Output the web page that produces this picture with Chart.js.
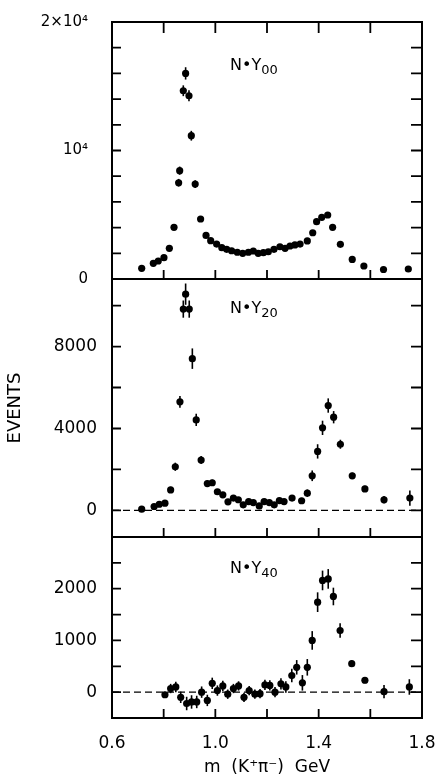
<!DOCTYPE html>
<html>
<head>
<meta charset="utf-8">
<script src="https://cdn.jsdelivr.net/npm/chart.js@4.4.1/dist/chart.umd.min.js"></script>
<style>
body { margin: 0; background: #ffffff; }
#wrap { position: relative; width: 441px; height: 780px; }
canvas { position: absolute; left: 0; }
</style>
</head>
<body>
<div id="wrap">
  <canvas id="graph1" width="441" height="284" style="top:0px"></canvas>
  <canvas id="graph2" width="441" height="275" style="top:270px"></canvas>
  <canvas id="graph3" width="441" height="252" style="top:528px"></canvas>
</div>
<script>
// x axis: m(K+ pi-) in GeV
var xTicks = [0.6, 0.8, 1.0, 1.2, 1.4, 1.6, 1.8];
var xTickLabels = ['0.6', '', '1.0', '', '1.4', '', '1.8'];

// N*Y00 panel
var m00 = [0.715, 0.760, 0.779, 0.801, 0.822, 0.840, 0.858, 0.862, 0.876, 0.885, 0.898, 0.907, 0.922, 0.943, 0.964,
  0.982, 1.005, 1.025, 1.044, 1.063, 1.085, 1.106, 1.128, 1.147, 1.166, 1.186, 1.205, 1.227, 1.250, 1.270,
  1.289, 1.308, 1.328, 1.356, 1.377, 1.392, 1.412, 1.435, 1.454, 1.484, 1.530, 1.575, 1.651, 1.747];
var y00 = [830, 1220, 1400, 1660, 2390, 4020, 7490, 8430, 14650, 16000, 14260, 11150, 7390, 4670, 3390,
  2980, 2720, 2440, 2310, 2200, 2080, 2000, 2080, 2180, 2000, 2050, 2120, 2310, 2510, 2390,
  2570, 2650, 2720, 2960, 3600, 4460, 4800, 4980, 4020, 2700, 1520, 1010, 740, 780];
var e00 = [100, 120, 120, 130, 150, 200, 300, 320, 420, 480, 420, 380, 300, 220, 180,
  160, 150, 150, 140, 140, 140, 140, 140, 140, 140, 140, 140, 150, 150, 150,
  150, 160, 160, 170, 190, 220, 230, 230, 210, 170, 130, 110, 100, 100];
var yTicks00 = [0, 2000, 4000, 6000, 8000, 10000, 12000, 14000, 16000, 18000, 20000];
var yLabels00 = ['0', '', '', '', '', '10\u2074', '', '', '', '', '2\u00d710\u2074'];

// N*Y20 panel
var m20 = [0.715, 0.763, 0.783, 0.805, 0.827, 0.845, 0.863, 0.876, 0.885, 0.899, 0.911, 0.926, 0.945, 0.969,
  0.988, 1.008, 1.029, 1.049, 1.070, 1.089, 1.108, 1.129, 1.147, 1.170, 1.189, 1.209, 1.228, 1.248,
  1.266, 1.297, 1.334, 1.356, 1.375, 1.396, 1.415, 1.437, 1.458, 1.484, 1.530, 1.579, 1.653, 1.753];
var y20 = [60, 190, 300, 350, 1000, 2130, 5300, 9830, 10560, 9830, 7410, 4420, 2460, 1310,
  1350, 910, 760, 420, 600, 520, 270, 430, 380, 220, 430, 380, 270, 480,
  430, 600, 470, 840, 1690, 2880, 4030, 5120, 4550, 3230, 1690, 1050, 520, 600];
var e20 = [80, 100, 100, 110, 150, 200, 290, 420, 520, 420, 500, 300, 200, 150,
  150, 130, 120, 110, 110, 110, 110, 110, 110, 110, 110, 110, 110, 120,
  120, 130, 140, 180, 260, 350, 350, 350, 300, 220, 150, 150, 180, 370];
var yTicks20 = [0, 2000, 4000, 6000, 8000, 10000];
var yLabels20 = ['0', '', '4000', '', '8000', ''];

// N*Y40 panel
var m40 = [0.805, 0.827, 0.847, 0.866, 0.889, 0.908, 0.928, 0.947, 0.969, 0.988, 1.008, 1.029, 1.048,
  1.070, 1.090, 1.111, 1.131, 1.153, 1.173, 1.192, 1.211, 1.231, 1.254, 1.273, 1.296, 1.315,
  1.337, 1.356, 1.375, 1.396, 1.415, 1.437, 1.457, 1.483, 1.528, 1.579, 1.653, 1.751];
var y40 = [-50, 70, 100, -100, -220, -190, -190, 0, -160, 170, 30, 120, -40,
  70, 120, -100, 30, -40, -30, 140, 130, 0, 160, 100, 320, 480,
  180, 480, 1000, 1740, 2160, 2190, 1850, 1190, 550, 230, 10, 100];
var e40 = [60, 90, 100, 110, 130, 130, 120, 110, 110, 110, 100, 100, 90,
  90, 90, 90, 90, 90, 90, 100, 100, 100, 110, 110, 130, 140,
  150, 160, 180, 190, 190, 190, 170, 140, 60, 60, 130, 150];
var yTicks40 = [-500, 0, 500, 1000, 1500, 2000, 2500, 3000];
var yLabels40 = ['', '0', '', '1000', '', '2000', '', ''];

function toPoints(xs, ys) {
  var pts = [];
  for (var i = 0; i < xs.length; i++) {
    pts.push({ x: xs[i], y: ys[i] });
  }
  return pts;
}

// box, inward ticks, error bars and the N.Y label
var panelPlugin = {
  id: 'panelPlugin',
  afterDatasetsDraw: function (chart) {
    var ctx = chart.ctx;
    var area = chart.chartArea;
    var yScale = chart.scales.y;
    ctx.save();
    ctx.beginPath();
    ctx.rect(area.left, area.top, area.right - area.left, area.bottom - area.top);
    ctx.clip();
    ctx.strokeStyle = '#000';
    ctx.lineWidth = 1.6;
    chart.data.datasets.forEach(function (ds, i) {
      if (!ds.errors) return;
      var meta = chart.getDatasetMeta(i);
      for (var j = 0; j < meta.data.length; j++) {
        var pt = meta.data[j];
        var lo = yScale.getPixelForValue(ds.data[j].y - ds.errors[j]);
        var hi = yScale.getPixelForValue(ds.data[j].y + ds.errors[j]);
        ctx.beginPath();
        ctx.moveTo(pt.x, lo);
        ctx.lineTo(pt.x, hi);
        ctx.stroke();
      }
    });
    ctx.restore();
  },
  afterDraw: function (chart, args, opts) {
    var ctx = chart.ctx;
    var area = chart.chartArea;
    var xScale = chart.scales.x;
    var yScale = chart.scales.y;
    ctx.save();
    ctx.strokeStyle = '#000';
    ctx.lineWidth = 2;
    ctx.strokeRect(area.left, area.top, area.right - area.left, area.bottom - area.top);

    ctx.lineWidth = 1.8;
    for (var i = 1; i < xTicks.length - 1; i++) {
      var px = xScale.getPixelForValue(xTicks[i]);
      ctx.beginPath();
      ctx.moveTo(px, area.bottom);
      ctx.lineTo(px, area.bottom - 9);
      if (opts.topTicks) {
        ctx.moveTo(px, area.top);
        ctx.lineTo(px, area.top + 11);
      }
      ctx.stroke();
    }
    for (var k = 0; k < opts.yTicks.length; k++) {
      var py = yScale.getPixelForValue(opts.yTicks[k]);
      if (py <= area.top + 1 || py >= area.bottom - 1) continue;
      ctx.beginPath();
      ctx.moveTo(area.left, py);
      ctx.lineTo(area.left + 9, py);
      ctx.moveTo(area.right, py);
      ctx.lineTo(area.right - 11, py);
      ctx.stroke();
    }

    // N.Y label with subscript
    ctx.fillStyle = '#000';
    ctx.textBaseline = 'middle';
    ctx.font = '16px "DejaVu Sans"';
    var lx = area.left + 118;
    var ly = area.top + opts.labelY;
    ctx.fillText('N\u2022Y', lx, ly);
    var w = ctx.measureText('N\u2022Y').width;
    ctx.font = '13px "DejaVu Sans"';
    ctx.fillText(opts.sub, lx + w, ly + 5);
    ctx.restore();
  }
};

function makePanel(canvasId, sets, yMin, yMax, yTicks, yLabels, pad, extra) {
  var datasets = [];
  for (var i = 0; i < sets.length; i++) {
    datasets.push(sets[i]);
  }
  var xOpts = {
    type: 'linear',
    min: 0.6,
    max: 1.8,
    grid: { display: false },
    border: { display: false },
    afterBuildTicks: function (scale) {
      scale.ticks = xTicks.map(function (v) { return { value: v }; });
    },
    ticks: { display: false },
    afterFit: function (scale) {
      scale.height = 0;
      scale.paddingLeft = 0;
      scale.paddingRight = 0;
    }
  };
  if (extra.xLabels) {
    xOpts.ticks = {
      display: true,
      autoSkip: false,
      maxRotation: 0,
      padding: 7,
      color: '#000',
      font: { family: 'DejaVu Sans', size: 17 },
      callback: function (value, index) { return xTickLabels[index]; }
    };
    xOpts.title = {
      display: true,
      text: 'm  (K\u207a\u03c0\u207b)  GeV',
      color: '#000',
      font: { family: 'DejaVu Sans', size: 17 },
      padding: { top: 0, bottom: 2 }
    };
    xOpts.afterFit = function (scale) {
      scale.height = 62;
      scale.paddingLeft = 0;
      scale.paddingRight = 0;
    };
  }
  var yOpts = {
    type: 'linear',
    min: yMin,
    max: yMax,
    grid: { display: false, drawTicks: false },
    border: { display: false },
    afterBuildTicks: function (scale) {
      scale.ticks = yTicks.map(function (v) { return { value: v }; });
    },
    ticks: {
      autoSkip: false,
      padding: extra.labelPad,
      color: '#000',
      font: { family: 'DejaVu Sans', size: extra.labelSize },
      callback: function (value, index) { return yLabels[index]; }
    },
    afterFit: function (scale) {
      scale.width = 112;
      scale.paddingTop = 0;
      scale.paddingBottom = 0;
    }
  };
  if (extra.yTitle) {
    yOpts.title = {
      display: true,
      text: extra.yTitle,
      color: '#000',
      font: { family: 'DejaVu Sans', size: 18 },
      padding: { top: 5, bottom: 0 }
    };
  }
  var canvas = document.getElementById(canvasId);
  var ctx = canvas.getContext('2d');
  return new Chart(ctx, {
    type: 'scatter',
    data: { datasets: datasets },
    options: {
      responsive: false,
      animation: false,
      layout: { padding: pad },
      plugins: {
        legend: { display: false },
        tooltip: { enabled: false },
        panelPlugin: { yTicks: yTicks, sub: extra.sub, labelY: extra.labelY, topTicks: extra.topTicks }
      },
      scales: { x: xOpts, y: yOpts }
    },
    plugins: [panelPlugin]
  });
}

function pointSet(xs, ys, errs) {
  return {
    data: toPoints(xs, ys),
    errors: errs,
    pointRadius: 3.6,
    pointBackgroundColor: '#000',
    pointBorderWidth: 0,
    showLine: false
  };
}

function zeroLine() {
  return {
    type: 'line',
    data: [{ x: 0.6, y: 0 }, { x: 1.8, y: 0 }],
    borderColor: '#000',
    borderWidth: 1.3,
    borderDash: [7, 4],
    pointRadius: 0,
    showLine: true
  };
}

makePanel('graph1', [pointSet(m00, y00, e00)], 0, 20000, yTicks00, yLabels00,
  { left: 0, right: 19, top: 22, bottom: 5 },
  { sub: '00', labelY: 44, topTicks: true, labelPad: 24, labelSize: 15 });

makePanel('graph2', [zeroLine(), pointSet(m20, y20, e20)], -1300, 11300, yTicks20, yLabels20,
  { left: 0, right: 19, top: 9, bottom: 8 },
  { sub: '20', labelY: 30, topTicks: false, labelPad: 15, labelSize: 17, yTitle: 'EVENTS' });

makePanel('graph3', [zeroLine(), pointSet(m40, y40, e40)], -500, 3000, yTicks40, yLabels40,
  { left: 0, right: 19, top: 9, bottom: 0 },
  { sub: '40', labelY: 32, topTicks: false, labelPad: 15, labelSize: 17, xLabels: true });
</script>
</body>
</html>
